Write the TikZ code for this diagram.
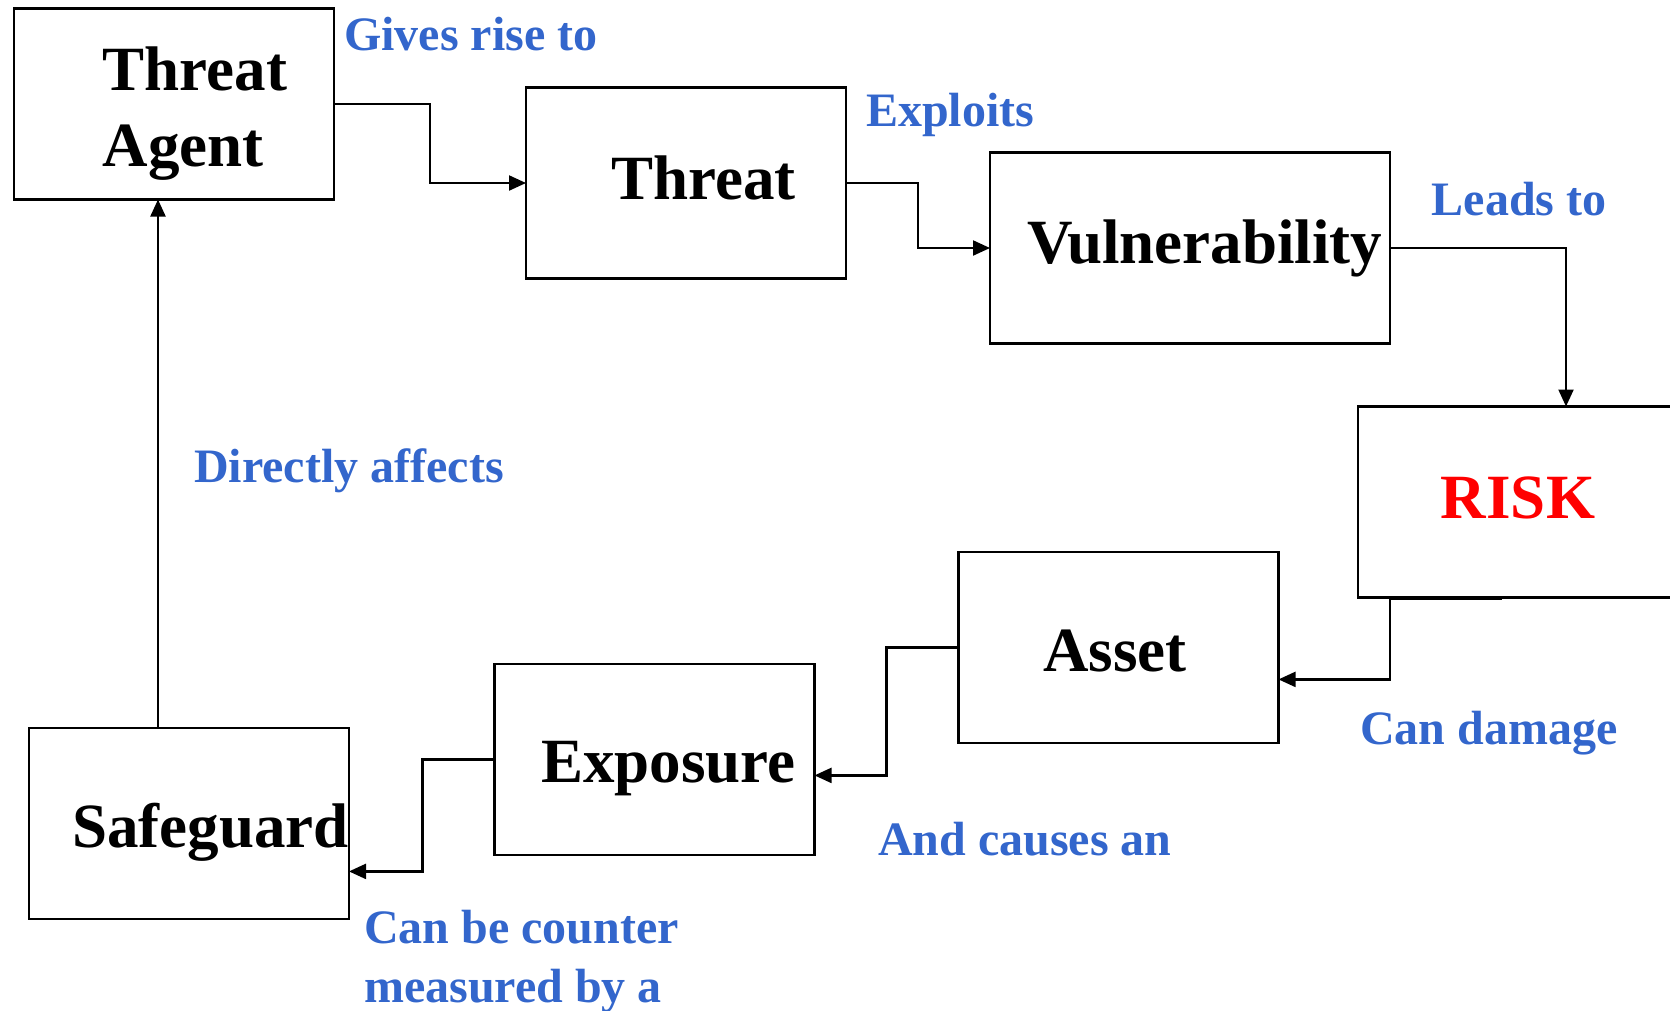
\documentclass[tikz,border=0pt]{standalone}
\usepackage{fontspec}
\setmainfont{Liberation Serif}
\usetikzlibrary{positioning,arrows.meta}
\definecolor{relblue}{HTML}{3366CC}
\definecolor{riskred}{HTML}{FF0000}

\begin{document}
\begin{tikzpicture}[
  x=1pt, y=-1pt,
  box/.style={rectangle, draw, line width=2.2pt, minimum width=320pt, minimum height=191pt, inner sep=0pt, outer sep=0pt},
  term/.style={anchor=base, inner sep=0pt, font=\fontsize{63}{76}\selectfont\bfseries},
  rel/.style={anchor=base west, inner sep=0pt, text=relblue, font=\fontsize{48}{59}\selectfont\bfseries},
  flow/.style={line width=2.2pt, -{Triangle[length=17pt, width=15pt]}}
]
  \useasboundingbox (0,0) rectangle (1670,1010);

  \node[box] (agent) at (174,104) {};
  \node[box, right=192pt of agent, yshift=-79pt] (threat) {};
  \node[box, minimum width=400pt, right=144pt of threat, yshift=-65pt] (vuln) {};
  \node[box, below=63pt of vuln, xshift=328pt] (risk) {};
  \node[box, left=79.5pt of risk, yshift=-145.4pt] (asset) {};
  \node[box, left=144pt of asset, yshift=-112pt] (exposure) {};
  \node[box, left=145.5pt of exposure, yshift=-64pt] (safeguard) {};

  \node[term, align=left] (agent-t) at ([shift={(21,62.7)}]agent.center) {Threat\\Agent};
  \node[term] (threat-t) at ([shift={(17.6,16)}]threat.center) {Threat};
  \node[term] (vuln-t) at ([shift={(15,15.3)}]vuln.center) {Vulnerability};
  \node[term, text=riskred] (risk-t) at ([shift={(0,16)}]risk.center) {RISK};
  \node[term] (asset-t) at ([shift={(-3.5,24)}]asset.center) {Asset};
  \node[term] (exposure-t) at ([shift={(13.7,23.5)}]exposure.center) {Exposure};
  \node[term] (safeguard-t) at ([shift={(21.5,23.7)}]safeguard.center) {Safeguard};

  \node[rel] (gives) at (344,50.7) {Gives rise to};
  \node[rel] (exploits) at (866,126.7) {Exploits};
  \node[rel] (leads) at (1431.7,215.7) {Leads to};
  \node[rel] (affects) at (194,482.7) {Directly affects};
  \node[rel] (damage) at (1360,744) {Can damage};
  \node[rel] (causes) at (878,855) {And causes an};
  \node[rel, align=left] (counter) at (364,1002) {Can be counter\\measured by a};

  \draw[flow] (agent.east) -- ++(96,0) |- (threat.west);
  \draw[flow] (threat.east) -- ++(72,0) |- (vuln.west);
  \draw[flow] (vuln.east) -| ([xshift=48pt]risk.north);
  \draw[flow] ([xshift=32pt]risk.south west) |- ([shift={(0,32)}]asset.east);
  \draw[line width=2.6pt] ([shift={(32,1)}]risk.south west) -- ++(112,0);
  \draw[flow] (asset.west) -- ++(-72,0) |- ([shift={(0,16)}]exposure.east);
  \draw[flow] (exposure.west) -- ++(-72,0) |- ([shift={(0,48)}]safeguard.east);
  \draw[flow] ([xshift=129pt]safeguard.north west) coordinate (up) -- (up |- agent.south);
\end{tikzpicture}
\end{document}
